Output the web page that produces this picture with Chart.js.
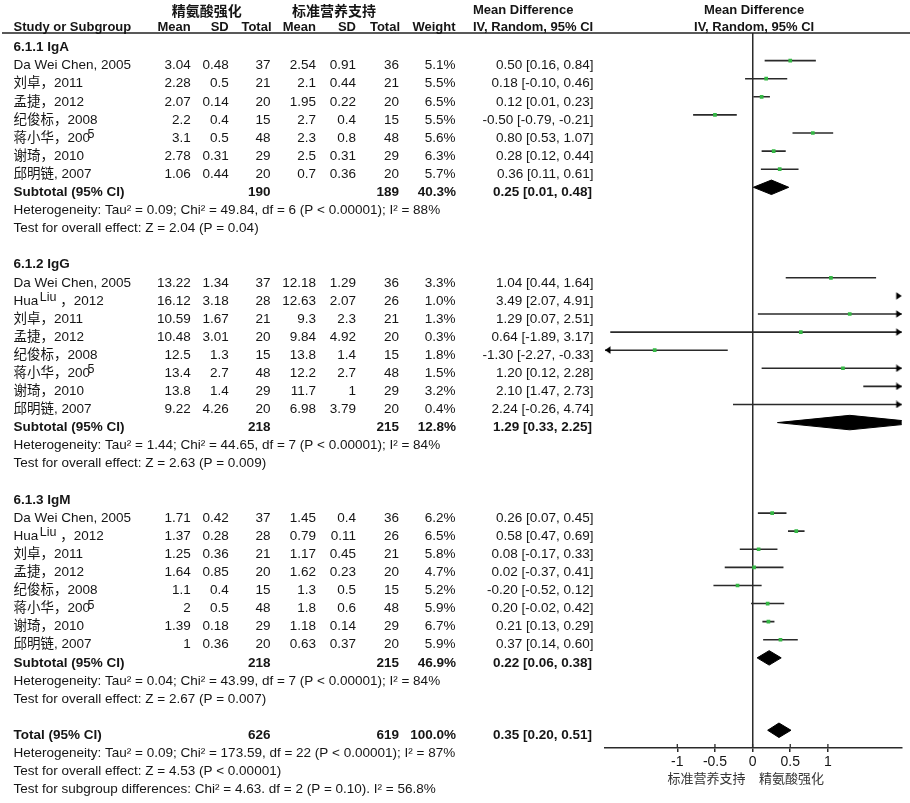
<!DOCTYPE html>
<html>
<head>
<meta charset="utf-8">
<script src="https://cdn.jsdelivr.net/npm/chart.js@4.4.1/dist/chart.umd.min.js"></script>
<style>
  html, body { margin: 0; background: #fff; }
  #wrap { width: 910px; height: 803px; }
</style>
</head>
<body>
<div id="wrap"><canvas id="forest"></canvas></div>
<script>
// axis
const XMIN = -1.96, XMAX = 1.98;
const tickValues = [-1, -0.5, 0, 0.5, 1];
const tickLabels = ['-1', '-0.5', '0', '0.5', '1'];
const favoursLeft = '标准营养支持';
const favoursRight = '精氨酸强化';

// subgroups and studies ({...} = raised text, as in the source figure)
const subgroupNames = ['6.1.1 IgA', '6.1.2 IgG', '6.1.3 IgM'];
const igaStudies = ['Da Wei Chen, 2005', '刘卓，2011', '孟捷，2012', '纪俊标，2008', '蒋小华，200{5}', '谢琦，2010', '邱明链, 2007'];
const iggStudies = ['Da Wei Chen, 2005', 'Hua{Liu} ，2012', '刘卓，2011', '孟捷，2012', '纪俊标，2008', '蒋小华，200{5}', '谢琦，2010', '邱明链, 2007'];
const igmStudies = ['Da Wei Chen, 2005', 'Hua{Liu} ，2012', '刘卓，2011', '孟捷，2012', '纪俊标，2008', '蒋小华，200{5}', '谢琦，2010', '邱明链, 2007'];

// per study, in order IgA, IgG, IgM
const expMean = [3.04, 2.28, 2.07, 2.2, 3.1, 2.78, 1.06,
                 13.22, 16.12, 10.59, 10.48, 12.5, 13.4, 13.8, 9.22,
                 1.71, 1.37, 1.25, 1.64, 1.1, 2, 1.39, 1];
const expSD   = [0.48, 0.5, 0.14, 0.4, 0.5, 0.31, 0.44,
                 1.34, 3.18, 1.67, 3.01, 1.3, 2.7, 1.4, 4.26,
                 0.42, 0.28, 0.36, 0.85, 0.4, 0.5, 0.18, 0.36];
const expN    = [37, 21, 20, 15, 48, 29, 20,
                 37, 28, 21, 20, 15, 48, 29, 20,
                 37, 28, 21, 20, 15, 48, 29, 20];
const ctlMean = [2.54, 2.1, 1.95, 2.7, 2.3, 2.5, 0.7,
                 12.18, 12.63, 9.3, 9.84, 13.8, 12.2, 11.7, 6.98,
                 1.45, 0.79, 1.17, 1.62, 1.3, 1.8, 1.18, 0.63];
const ctlSD   = [0.91, 0.44, 0.22, 0.4, 0.8, 0.31, 0.36,
                 1.29, 2.07, 2.3, 4.92, 1.4, 2.7, 1, 3.79,
                 0.4, 0.11, 0.45, 0.23, 0.5, 0.6, 0.14, 0.37];
const ctlN    = [36, 21, 20, 15, 48, 29, 20,
                 36, 26, 21, 20, 15, 48, 29, 20,
                 36, 26, 21, 20, 15, 48, 29, 20];
const weights = [5.1, 5.5, 6.5, 5.5, 5.6, 6.3, 5.7,
                 3.3, 1.0, 1.3, 0.3, 1.8, 1.5, 3.2, 0.4,
                 6.2, 6.5, 5.8, 4.7, 5.2, 5.9, 6.7, 5.9];
const meanDiff = [0.50, 0.18, 0.12, -0.50, 0.80, 0.28, 0.36,
                  1.04, 3.49, 1.29, 0.64, -1.30, 1.20, 2.10, 2.24,
                  0.26, 0.58, 0.08, 0.02, -0.20, 0.20, 0.21, 0.37];
const ciLow   = [0.16, -0.10, 0.01, -0.79, 0.53, 0.12, 0.11,
                 0.44, 2.07, 0.07, -1.89, -2.27, 0.12, 1.47, -0.26,
                 0.07, 0.47, -0.17, -0.37, -0.52, -0.02, 0.13, 0.14];
const ciHigh  = [0.84, 0.46, 0.23, -0.21, 1.07, 0.44, 0.61,
                 1.64, 4.91, 2.51, 3.17, -0.33, 2.28, 2.73, 4.74,
                 0.45, 0.69, 0.33, 0.41, 0.12, 0.42, 0.29, 0.60];

// subtotals
const subExpN = [190, 218, 218];
const subCtlN = [189, 215, 215];
const subWeight = [40.3, 12.8, 46.9];
const subMD = [0.25, 1.29, 0.22];
const subLow = [0.01, 0.33, 0.06];
const subHigh = [0.48, 2.25, 0.38];
const subHet = [
  'Heterogeneity: Tau² = 0.09; Chi² = 49.84, df = 6 (P < 0.00001); I² = 88%',
  'Heterogeneity: Tau² = 1.44; Chi² = 44.65, df = 7 (P < 0.00001); I² = 84%',
  'Heterogeneity: Tau² = 0.04; Chi² = 43.99, df = 7 (P < 0.00001); I² = 84%'
];
const subEffect = [
  'Test for overall effect: Z = 2.04 (P = 0.04)',
  'Test for overall effect: Z = 2.63 (P = 0.009)',
  'Test for overall effect: Z = 2.67 (P = 0.007)'
];

// overall
const totalN = [626, 619];
const totalWeight = 100.0;
const totalMD = 0.35, totalLow = 0.20, totalHigh = 0.51;
const totalNotes = [
  'Heterogeneity: Tau² = 0.09; Chi² = 173.59, df = 22 (P < 0.00001); I² = 87%',
  'Test for overall effect: Z = 4.53 (P < 0.00001)',
  'Test for subgroup differences: Chi² = 4.63. df = 2 (P = 0.10). I² = 56.8%'
];

// ---- row layout (one unit per text line) ----
const groupStudies = [igaStudies, iggStudies, igmStudies];
const headRows = [], studyRows = [], subRows = [];
let row = 0;
groupStudies.forEach(list => {
  headRows.push(row++);
  list.forEach(() => studyRows.push(row++));
  subRows.push(row);
  row += 4;
});
const totalRow = row;
const allStudies = groupStudies.flat();

const INK = '#151515';
const LINE = '#2a2a2a';
const FONT = "'Liberation Sans', 'Noto Sans CJK SC', sans-serif";
const CJK = "'Noto Sans CJK SC', sans-serif";
const DIAMOND_H = 0.4;
const TEXT_DY = 5;

const ciText = (m, l, h) => m.toFixed(2) + ' [' + l.toFixed(2) + ', ' + h.toFixed(2) + ']';

// arrowhead image, tip sits in the middle so the tip lands on the axis end
const arrow = document.createElement('canvas');
arrow.width = 14; arrow.height = 8;
(function () {
  const a = arrow.getContext('2d');
  a.fillStyle = '#000';
  a.beginPath(); a.moveTo(1.5, 0.3); a.lineTo(7, 4); a.lineTo(1.5, 7.7); a.closePath(); a.fill();
})();

const datasets = [];
studyRows.forEach((r, i) => {
  datasets.push({
    type: 'line',
    data: [{ x: ciLow[i], y: r }, { x: ciHigh[i], y: r }],
    borderColor: LINE, borderWidth: 1.6, pointRadius: 0, clip: 0, order: 3
  });
});
datasets.push({
  type: 'scatter',
  data: studyRows.map((r, i) => ({ x: meanDiff[i], y: r })),
  pointStyle: 'rect', pointRadius: 2.6, backgroundColor: '#35b845', borderWidth: 0, clip: 0, order: 0
});
datasets.push({
  type: 'scatter',
  data: studyRows.filter((r, i) => ciHigh[i] > XMAX).map(r => ({ x: XMAX, y: r })),
  pointStyle: arrow, pointRadius: 4, clip: false, order: 1
});
datasets.push({
  type: 'scatter',
  data: studyRows.filter((r, i) => ciLow[i] < XMIN).map(r => ({ x: XMIN, y: r })),
  pointStyle: arrow, pointRadius: 4, rotation: 180, clip: false, order: 1
});
const diamond = (r, m, l, h) => ({
  type: 'line',
  data: [{ x: l, y: r }, { x: m, y: r - DIAMOND_H }, { x: h, y: r }, { x: m, y: r + DIAMOND_H }, { x: l, y: r }],
  borderColor: '#000', backgroundColor: '#000', borderWidth: 1, fill: 'shape', pointRadius: 0, clip: 0, order: 2
});
subRows.forEach((r, g) => datasets.push(diamond(r, subMD[g], subLow[g], subHigh[g])));
datasets.push(diamond(totalRow, totalMD, totalLow, totalHigh));

function put(ctx, text, x, y, align, bold, size) {
  ctx.font = (bold ? 'bold ' : '') + (size || 13.5) + 'px ' + FONT;
  ctx.textAlign = align || 'left';
  ctx.fillText(text, x, y);
}

function putName(ctx, name, x, y) {
  const parts = name.split(/[{}]/);
  let cx = x;
  ctx.textAlign = 'left';
  parts.forEach((p, k) => {
    if (!p) return;
    const raised = k % 2 === 1;
    ctx.font = (raised ? 12.5 : 13.5) + 'px ' + FONT;
    const dx = raised ? (/^\d/.test(p) ? -2.5 : 1.5) : 0;
    ctx.fillText(p, cx + dx, raised ? y - 3.5 : y);
    cx += ctx.measureText(p).width + dx;
  });
}

const tablePlugin = {
  id: 'table',
  afterDraw(chart) {
    const ctx = chart.ctx, xs = chart.scales.x, ys = chart.scales.y, area = chart.chartArea;
    const ty = r => ys.getPixelForValue(r) + TEXT_DY;
    const zero = xs.getPixelForValue(0);
    ctx.save();

    // header rule
    ctx.strokeStyle = '#222'; ctx.lineWidth = 1.3;
    ctx.beginPath(); ctx.moveTo(2, area.top); ctx.lineTo(chart.width, area.top); ctx.stroke();
    // tick marks also poke above the axis line
    ctx.strokeStyle = LINE;
    tickValues.forEach(v => {
      const px = xs.getPixelForValue(v);
      ctx.beginPath(); ctx.moveTo(px, area.bottom - 4); ctx.lineTo(px, area.bottom); ctx.stroke();
    });

    ctx.fillStyle = INK;
    ctx.textBaseline = 'middle';

    // headers
    const h1 = ty(-2.03), h2 = ty(-1.12);
    ctx.font = 'bold 14px ' + CJK; ctx.textAlign = 'center';
    ctx.fillText(favoursRight, 206.7, h1);
    ctx.fillText(favoursLeft, 334, h1);
    put(ctx, 'Mean Difference', 473, h1, 'left', true, 13);
    put(ctx, 'Mean Difference', zero + 1.5, h1, 'center', true, 13);
    put(ctx, 'Study or Subgroup', 13.5, h2, 'left', true, 13);
    put(ctx, 'Mean', 190.7, h2, 'right', true, 13);
    put(ctx, 'SD', 228.7, h2, 'right', true, 13);
    put(ctx, 'Total', 271.5, h2, 'right', true, 13);
    put(ctx, 'Mean', 316, h2, 'right', true, 13);
    put(ctx, 'SD', 356, h2, 'right', true, 13);
    put(ctx, 'Total', 400, h2, 'right', true, 13);
    put(ctx, 'Weight', 455.5, h2, 'right', true, 13);
    put(ctx, 'IV, Random, 95% CI', 473, h2, 'left', true, 13);
    put(ctx, 'IV, Random, 95% CI', zero + 1.5, h2, 'center', true, 13);

    // subgroups
    headRows.forEach((r, g) => {
      put(ctx, subgroupNames[g], 13.5, ty(r), 'left', true);
      const s = subRows[g];
      put(ctx, 'Subtotal (95% CI)', 13.5, ty(s), 'left', true);
      put(ctx, String(subExpN[g]), 270.5, ty(s), 'right', true);
      put(ctx, String(subCtlN[g]), 399, ty(s), 'right', true);
      put(ctx, subWeight[g].toFixed(1) + '%', 456, ty(s), 'right', true);
      put(ctx, ciText(subMD[g], subLow[g], subHigh[g]), 592, ty(s), 'right', true);
      put(ctx, subHet[g], 13.5, ty(s + 1), 'left');
      put(ctx, subEffect[g], 13.5, ty(s + 2), 'left');
    });

    // studies
    studyRows.forEach((r, i) => {
      const y = ty(r);
      putName(ctx, allStudies[i], 13.5, y);
      put(ctx, String(expMean[i]), 190.7, y, 'right');
      put(ctx, String(expSD[i]), 228.7, y, 'right');
      put(ctx, String(expN[i]), 270.5, y, 'right');
      put(ctx, String(ctlMean[i]), 316, y, 'right');
      put(ctx, String(ctlSD[i]), 356, y, 'right');
      put(ctx, String(ctlN[i]), 399, y, 'right');
      put(ctx, weights[i].toFixed(1) + '%', 455.5, y, 'right');
      put(ctx, ciText(meanDiff[i], ciLow[i], ciHigh[i]), 593.5, y, 'right');
    });

    // total
    const t = ty(totalRow);
    put(ctx, 'Total (95% CI)', 13.5, t, 'left', true);
    put(ctx, String(totalN[0]), 270.5, t, 'right', true);
    put(ctx, String(totalN[1]), 399, t, 'right', true);
    put(ctx, totalWeight.toFixed(1) + '%', 456, t, 'right', true);
    put(ctx, ciText(totalMD, totalLow, totalHigh), 592, t, 'right', true);
    totalNotes.forEach((s, k) => put(ctx, s, 13.5, ty(totalRow + 1 + k), 'left'));

    // favours labels under the axis
    ctx.fillStyle = '#333';
    ctx.font = '13px ' + CJK;
    ctx.textAlign = 'right'; ctx.fillText(favoursLeft, zero - 7, area.bottom + 30);
    ctx.textAlign = 'left'; ctx.fillText(favoursRight, zero + 6.5, area.bottom + 30);

    ctx.restore();
  }
};

new Chart(document.getElementById('forest'), {
  type: 'scatter',
  data: { datasets: datasets },
  options: {
    responsive: true,
    maintainAspectRatio: false,
    animation: false,
    events: [],
    layout: { padding: { left: 605, right: 8.3, top: 33, bottom: 31.2 } },
    plugins: { legend: { display: false }, tooltip: { enabled: false } },
    scales: {
      x: {
        type: 'linear', min: XMIN, max: XMAX,
        afterBuildTicks: s => { s.ticks = tickValues.map(v => ({ value: v })); },
        ticks: {
          autoSkip: false, padding: 1.5, color: INK,
          font: { family: FONT, size: 14 },
          callback: (v, i) => tickLabels[i]
        },
        grid: {
          color: c => (c.tick && c.tick.value === 0 ? LINE : 'rgba(0,0,0,0)'),
          tickColor: LINE, lineWidth: 1.5, tickLength: 4, drawTicks: true
        },
        border: { display: true, color: LINE, width: 1.4 }
      },
      y: {
        type: 'linear', reverse: true, display: false,
        min: -0.525, max: 38.98
      }
    }
  },
  plugins: [tablePlugin]
});
</script>
</body>
</html>
